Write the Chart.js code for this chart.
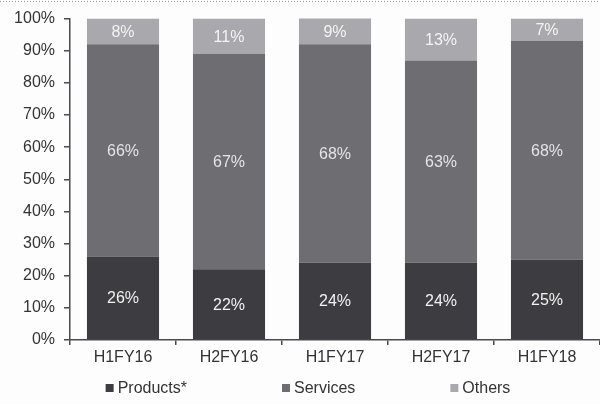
<!DOCTYPE html>
<html>
<head>
<meta charset="utf-8">
<script src="https://cdn.jsdelivr.net/npm/chart.js@4.4.1/dist/chart.umd.min.js"></script>
<style>
  html, body { margin: 0; padding: 0; background: #fdfdfd; }
  #wrap { position: relative; width: 600px; height: 404px; }
</style>
</head>
<body>
<div id="wrap"><canvas id="c" width="600" height="404"></canvas></div>
<script>
// Revenue mix by half-year (% of total)
const periods  = ['H1FY16', 'H2FY16', 'H1FY17', 'H2FY17', 'H1FY18'];
const products = [26, 22, 24, 24, 25];
const services = [66, 67, 68, 63, 68];
const others   = [8, 11, 9, 13, 7];
const seriesNames = ['Products*', 'Services', 'Others'];
const yTicks = [0, 10, 20, 30, 40, 50, 60, 70, 80, 90, 100];

const FONT = '"Liberation Sans", Arial, sans-serif';
const TEXT = '#333336';
const AXIS = '#4a4a4e';
const fills = ['#3d3c41', '#6e6d72', '#a9a8ad'];
const labelColors = ['#f2f2f2', '#e4e4e6', '#f4f4f4'];

// Percentage labels centred in the visible part of each segment
const segmentLabels = {
  id: 'segmentLabels',
  afterDatasetsDraw(chart) {
    const { ctx, chartArea } = chart;
    ctx.save();
    ctx.font = '16px ' + FONT;
    ctx.textAlign = 'center';
    ctx.textBaseline = 'middle';
    chart.data.datasets.forEach((ds, di) => {
      const meta = chart.getDatasetMeta(di);
      meta.data.forEach((bar, i) => {
        const top = Math.max(bar.y, chartArea.top);
        const bottom = Math.min(bar.base, chartArea.bottom);
        ctx.fillStyle = labelColors[di];
        ctx.fillText(ds.data[i] + '%', bar.x, (top + bottom) / 2 + 1);
      });
    });
    ctx.restore();
  }
};

// Legend row under the axis, spread out with wide gaps
const wideLegend = {
  id: 'wideLegend',
  afterDraw(chart) {
    const { ctx } = chart;
    ctx.save();
    ctx.font = '16px ' + FONT;
    ctx.textBaseline = 'middle';
    const box = 8, gapText = 4, gapItem = 95, y = 388;
    const items = chart.data.datasets.map((ds, i) => ({
      label: ds.label, color: fills[i],
      w: box + gapText + ctx.measureText(ds.label).width
    }));
    const total = items.reduce((s, it) => s + it.w, 0) + gapItem * (items.length - 1);
    let x = (chart.width - total) / 2 + 8;
    items.forEach(it => {
      ctx.fillStyle = it.color;
      ctx.fillRect(x, y - box / 2, box, box);
      ctx.fillStyle = TEXT;
      ctx.textAlign = 'left';
      ctx.fillText(it.label, x + box + gapText, y + 1);
      x += it.w + gapItem;
    });
    // dotted rule along the top edge
    ctx.strokeStyle = '#9a9a9a';
    ctx.lineWidth = 1;
    ctx.setLineDash([1, 2]);
    ctx.beginPath();
    ctx.moveTo(0, 1.5);
    ctx.lineTo(chart.width, 1.5);
    ctx.stroke();
    ctx.restore();
  }
};

new Chart(document.getElementById('c'), {
  type: 'bar',
  data: {
    labels: periods,
    datasets: [
      { label: seriesNames[0], data: products, backgroundColor: fills[0] },
      { label: seriesNames[1], data: services, backgroundColor: fills[1] },
      { label: seriesNames[2], data: others,   backgroundColor: fills[2] }
    ]
  },
  options: {
    responsive: false,
    animation: false,
    devicePixelRatio: 1,
    layout: { padding: { top: 17, right: 0, bottom: 34, left: 0 } },
    datasets: { bar: { categoryPercentage: 1, barPercentage: 0.68, borderWidth: 0 } },
    plugins: {
      legend: { display: false },
      tooltip: { enabled: false }
    },
    scales: {
      x: {
        stacked: true,
        afterFit(scale) { scale.height = 30; },
        border: { display: true, color: AXIS, width: 1.5 },
        grid: { display: true, drawOnChartArea: false, drawTicks: true, tickLength: 5, color: AXIS, lineWidth: 1.5 },
        ticks: { color: TEXT, font: { family: FONT, size: 16 }, padding: 3, maxRotation: 0 }
      },
      y: {
        stacked: true,
        min: 0,
        max: 100,
        afterFit(scale) { scale.width = 70; },
        afterBuildTicks(scale) { scale.ticks = yTicks.map(v => ({ value: v })); },
        border: { display: true, color: AXIS, width: 1.5 },
        grid: { display: true, drawOnChartArea: false, drawTicks: true, tickLength: 6, color: AXIS, lineWidth: 1.5 },
        ticks: { color: TEXT, font: { family: FONT, size: 16 }, padding: 9, callback: v => v + '%' }
      }
    }
  },
  plugins: [segmentLabels, wideLegend]
});
</script>
</body>
</html>
